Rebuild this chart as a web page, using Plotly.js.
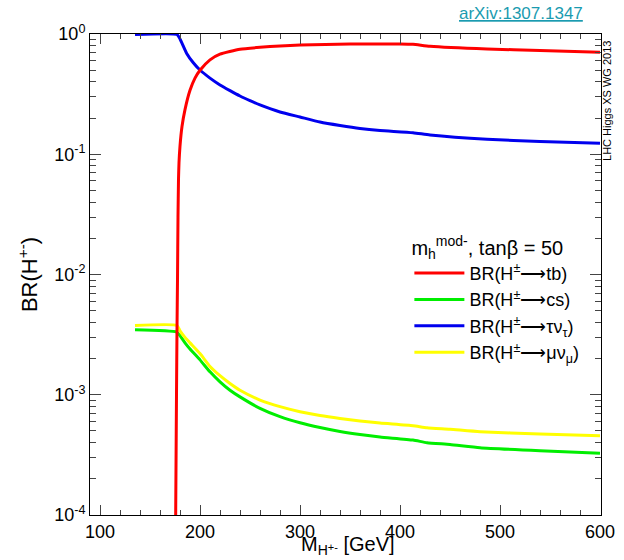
<!DOCTYPE html>
<html>
<head>
<meta charset="utf-8">
<script src="https://cdn.plot.ly/plotly-3.0.1.min.js"></script>
<style>
html,body{margin:0;padding:0;background:#fff;}
#chart{width:624px;height:560px;}
</style>
</head>
<body>
<div id="chart"></div>
<script>
// H+ -> t b
var tbMass = [175.6, 176.0, 176.5, 177.0, 177.5, 178.0, 178.5, 179, 180, 182, 185, 190, 195, 200, 210, 220, 240, 260, 280, 300, 350, 400, 413, 430, 487, 540, 600];
var tbBR   = [8e-5, 2.5e-4, 1e-3, 3.5e-3, 0.009, 0.03, 0.062, 0.085, 0.117, 0.17, 0.235, 0.34, 0.43, 0.50, 0.61, 0.68, 0.747, 0.775, 0.795, 0.81, 0.825, 0.826, 0.82, 0.79, 0.75, 0.73, 0.705];

// H+ -> c s
var csMass = [135, 176.8, 180, 185, 190, 200, 210, 220, 230, 240, 260, 280, 300, 320, 340, 360, 380, 413, 427, 450, 480, 540, 600];
var csBR   = [0.00347, 0.00332, 0.0031, 0.0027, 0.0024, 0.00195, 0.00155, 0.00128, 0.00109, 0.00096, 0.00077, 0.000657, 0.000585, 0.000534, 0.000495, 0.000467, 0.000445, 0.000420, 0.000399, 0.000386, 0.000363, 0.000342, 0.000326];

// H+ -> tau nu
var tauMass = [135, 177, 180, 186.7, 193.3, 200, 210, 220, 230, 240, 250, 260, 280, 300, 320, 340, 360, 380, 413, 430, 487, 540, 600];
var tauBR   = [0.99, 0.99, 0.91, 0.69, 0.577, 0.502, 0.43, 0.377, 0.338, 0.305, 0.279, 0.257, 0.2246, 0.204, 0.1854, 0.1734, 0.1637, 0.1575, 0.1510, 0.1446, 0.1331, 0.1276, 0.1233];

// H+ -> mu nu
var muMass = [135, 177, 180, 185, 190, 200, 210, 220, 230, 240, 260, 280, 300, 320, 340, 360, 380, 413, 427, 450, 480, 540, 600];
var muBR   = [0.00377, 0.00377, 0.0034, 0.0030, 0.0027, 0.0022, 0.00172, 0.00144, 0.00124, 0.00109, 0.000904, 0.000796, 0.000723, 0.000672, 0.000635, 0.000605, 0.000582, 0.000553, 0.000532, 0.000517, 0.000493, 0.000472, 0.000456];

var seriesNames = ["BR(H<sup>±</sup>⟶tb)", "BR(H<sup>±</sup>⟶cs)", "BR(H<sup>±</sup>⟶τν<sub>τ</sub>)", "BR(H<sup>±</sup>⟶μν<sub>μ</sub>)"];
var seriesColors = ["#ff0000", "#00ee00", "#0000ee", "#ffff00"];

var xTickVals = [100, 200, 300, 400, 500, 600];
var yTickVals = [1e-4, 1e-3, 1e-2, 1e-1, 1];
var yTickText = ["10<sup>-4</sup>", "10<sup>-3</sup>", "10<sup>-2</sup>", "10<sup>-1</sup>", "10<sup>0</sup>"];

var yMinor = [];
for (var e = -4; e < 0; e++) {
  for (var d = 2; d <= 9; d++) yMinor.push(d * Math.pow(10, e));
}

var xs = [tbMass, csMass, tauMass, muMass];
var ys = [tbBR, csBR, tauBR, muBR];
var traces = [];
for (var i = 0; i < 4; i++) {
  traces.push({
    x: xs[i], y: ys[i], type: 'scatter', mode: 'lines',
    name: seriesNames[i],
    legendrank: i + 1,
    line: {color: seriesColors[i], width: 3, shape: 'spline', smoothing: 0.5},
    cliponaxis: true
  });
}
// draw order: tb on top of the others
traces = [traces[2], traces[1], traces[3], traces[0]];

var font = "Liberation Sans, Arial, sans-serif";
var layout = {
  width: 624, height: 560,
  margin: {l: 90, r: 23, t: 34, b: 45},
  paper_bgcolor: '#ffffff', plot_bgcolor: '#ffffff',
  font: {family: font, size: 18, color: '#000'},
  showlegend: true,
  legend: {
    x: 0.625, xanchor: 'left', y: 0.595, yanchor: 'top',
    bgcolor: 'rgba(0,0,0,0)', borderwidth: 0,
    font: {family: font, size: 18, color: '#000'},
    title: {text: "m<sub>h</sub><sup>mod-</sup>, tanβ = 50", font: {family: font, size: 20, color: '#000'}},
    itemwidth: 50, tracegroupgap: 0
  },
  xaxis: {
    range: [90, 601], tickmode: 'array', tickvals: xTickVals,
    ticks: 'inside', ticklen: 10, tickcolor: '#444', tickwidth: 1,
    minor: {dtick: 20, tick0: 0, ticks: 'inside', ticklen: 5, tickcolor: '#444', showgrid: false},
    mirror: 'allticks', showline: true, linecolor: '#000', linewidth: 1,
    showgrid: false, zeroline: false,
    tickfont: {family: font, size: 18, color: '#000'}
  },
  yaxis: {
    type: 'log', range: [-4, 0], tickmode: 'array', tickvals: yTickVals, ticktext: yTickText,
    ticks: 'inside', ticklen: 11, tickcolor: '#444', tickwidth: 1,
    minor: {tickvals: yMinor, ticks: 'inside', ticklen: 6, tickcolor: '#444', showgrid: false},
    mirror: 'allticks', showline: true, linecolor: '#000', linewidth: 1,
    showgrid: false, zeroline: false,
    tickfont: {family: font, size: 18, color: '#000'},
    title: {text: "BR(H<sup>+-</sup>)", font: {family: font, size: 22, color: '#000'}, standoff: 10}
  },
  annotations: [
    {text: "M<sub>H</sub><span style='font-size:11px'>+-</span> [GeV]", xref: 'paper', yref: 'paper',
     x: 0.504, y: -0.0925, xanchor: 'center', yanchor: 'bottom', showarrow: false, borderpad: 0,
     font: {family: font, size: 20, color: '#000'}},
    {text: "<span style='text-decoration:underline'>arXiv:1307.1347</span>", xref: 'paper', yref: 'paper',
     x: 0.843, y: 1.042, xanchor: 'center', yanchor: 'middle', showarrow: false,
     font: {family: font, size: 17, color: '#1a9bb0'}},
    {text: "LHC Higgs XS WG 2013", xref: 'paper', yref: 'paper', textangle: -90,
     x: 1.013, y: 0.86, xanchor: 'center', yanchor: 'middle', showarrow: false,
     font: {family: font, size: 11, color: '#000'}}
  ]
};

Plotly.newPlot('chart', traces, layout, {displayModeBar: false, staticPlot: true});
</script>
</body>
</html>
